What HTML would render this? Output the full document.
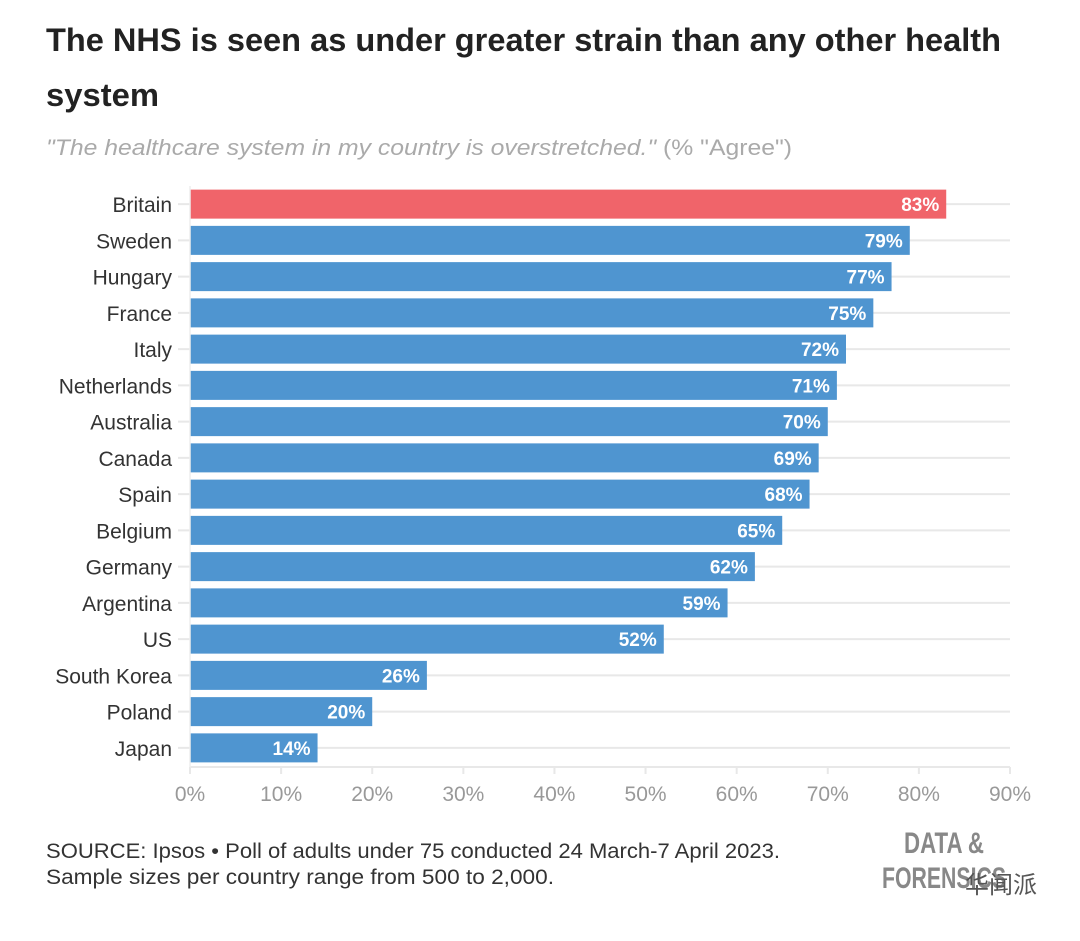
<!DOCTYPE html>
<html><head><meta charset="utf-8"><style>
body{margin:0;background:#fff;width:1080px;height:936px;overflow:hidden;font-family:"Liberation Sans",sans-serif}
</style></head><body>
<svg width="1080" height="936" xmlns="http://www.w3.org/2000/svg">
<text x="46" y="51" font-size="32" font-weight="bold" fill="#222" textLength="955" lengthAdjust="spacingAndGlyphs">The NHS is seen as under greater strain than any other health</text>
<text x="46" y="106" font-size="32" font-weight="bold" fill="#222" textLength="113" lengthAdjust="spacingAndGlyphs">system</text>
<text x="46" y="155" font-size="22" fill="#aaa" textLength="746" lengthAdjust="spacingAndGlyphs"><tspan font-style="italic">"The healthcare system in my country is overstretched."</tspan> (% "Agree")</text>
<g id="plot"></g>
<text x="46" y="858" font-size="21" fill="#333" textLength="734" lengthAdjust="spacingAndGlyphs">SOURCE: Ipsos • Poll of adults under 75 conducted 24 March-7 April 2023.</text>
<text x="46" y="884" font-size="21" fill="#333" textLength="508" lengthAdjust="spacingAndGlyphs">Sample sizes per country range from 500 to 2,000.</text>
<text x="904" y="853" font-size="30" font-weight="bold" fill="#888" textLength="80" lengthAdjust="spacingAndGlyphs">DATA &amp;</text>
<text x="882" y="888" font-size="30" font-weight="bold" fill="#888" textLength="124" lengthAdjust="spacingAndGlyphs">FORENSICS</text>
<text x="965" y="893" font-size="24" fill="#555" font-family="'Noto Sans CJK SC',sans-serif">华闻派</text>
</svg>
<script>
const categories=["Britain","Sweden","Hungary","France","Italy","Netherlands","Australia","Canada","Spain","Belgium","Germany","Argentina","US","South Korea","Poland","Japan"];
const values=[83,79,77,75,72,71,70,69,68,65,62,59,52,26,20,14];
const ticks=[0,10,20,30,40,50,60,70,80,90];
const NS="http://www.w3.org/2000/svg";
const g=document.getElementById('plot');
const x0=190,x1=1010,y0=186,pitch=36.25,bh=29;
const xs=v=>x0+(v/90)*(x1-x0);
const ys=i=>y0+i*pitch;
function mk(t,a){const e=document.createElementNS(NS,t);for(const k in a)e.setAttribute(k,a[k]);g.appendChild(e);return e;}
categories.forEach((c,i)=>{
 const cy=ys(i)+pitch/2;
 const gl=mk('line',{x1:178,x2:x1,y1:cy,y2:cy,stroke:'#e8e8e8','stroke-width':2});
 
 
 const lb=mk('text',{x:172,y:cy+8,'text-anchor':'end','font-size':21,fill:'#333'});
 lb.textContent=c;
 
 
 const r=mk('rect',{x:x0,y:cy-bh/2,width:xs(values[i])-x0,height:bh,fill:i===0?'#f0646a':'#4f95d0'});
 
 
 const vt=mk('text',{x:xs(values[i])-7,y:cy+7,'text-anchor':'end','font-size':19,'font-weight':'bold',fill:'#fff'});
 vt.textContent=values[i]+'%';
 
 
});
const ax=mk('line',{x1:x0,x2:x1,y1:767,y2:767,stroke:'#e8e8e8','stroke-width':2});


const vl=mk('line',{x1:x0,x2:x0,y1:186,y2:767,stroke:'#eee','stroke-width':1.5});


ticks.forEach(t=>{
 const tk=mk('line',{x1:xs(t),x2:xs(t),y1:767,y2:774,stroke:'#e8e8e8','stroke-width':2});
 
 
 const tl=mk('text',{x:xs(t),y:801,'text-anchor':'middle','font-size':21,fill:'#999'});
 tl.textContent=t+'%';
 
 
});
</script>
</body></html>
